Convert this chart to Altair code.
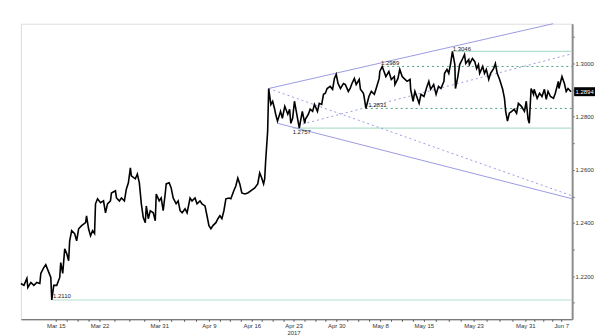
import altair as alt
import pandas as pd

# ---- price series (trading-time position, close) ----
t = [-5.10, -4.60, -4.11, -3.95, -3.45, -2.96, -2.47, -1.97, -1.81, -1.32, -0.99, -0.49, -0.16, 0.0,
     0.33, 0.82, 1.32, 1.48, 1.81, 2.14, 2.47, 2.79, 2.96, 3.29, 3.78, 4.11, 4.44, 4.93, 5.59, 5.75,
     6.08, 6.41, 6.74, 7.07, 7.23, 7.56, 8.06, 8.55, 8.88, 9.21, 9.70, 9.86, 10.52, 10.69, 11.18,
     11.51, 12.00, 12.33, 12.66, 12.99, 13.15, 13.81, 14.14, 14.47, 14.80, 15.12, 15.45, 15.62,
     15.95, 16.28, 16.77, 17.10, 17.26, 17.75, 18.08, 18.41, 18.74, 18.91, 19.40, 19.73, 20.06,
     20.55, 20.88, 21.21, 21.54, 22.03, 22.36, 22.85, 23.18, 23.67, 24.00, 24.49, 24.82, 25.32,
     25.65, 25.97, 26.30, 26.63, 27.12, 27.45, 27.78, 28.11, 28.44, 28.77, 29.26, 29.59, 30.08,
     30.41, 30.74, 31.07, 31.40, 31.89, 32.39, 32.88, 33.54, 34.03, 34.36, 34.69, 35.00, 35.18,
     35.34, 35.67, 35.84,
     36.2, 36.5, 36.8, 37.0, 37.3, 37.8, 38.1, 38.5, 39.0, 39.3, 39.5, 39.8, 40.1, 40.4, 40.9,
     41.1, 41.4, 41.8, 41.9, 42.4, 42.7, 43.1, 43.4, 43.9, 44.2, 44.6, 44.9, 45.2, 45.5, 46.0,
     46.4, 46.7, 47.0, 47.3, 47.7, 48.2, 48.5, 49.0, 49.3, 49.6, 50.0, 50.3, 50.8, 51.0, 51.5,
     51.6, 51.9, 52.4, 52.8, 53.3, 53.6, 54.1, 54.2, 54.6, 54.9, 55.2, 55.7, 56.1, 56.6, 56.7,
     57.2, 57.5, 57.9, 58.2, 58.7, 59.2, 59.3, 59.7,
     60.0, 60.7, 61.0, 61.5, 62.0, 62.3, 62.6, 63.1, 63.5, 63.9, 64.3, 64.8, 64.9, 65.3, 65.6,
     65.9, 66.2, 66.6, 66.7, 67.1, 67.4, 67.9, 68.2, 68.4, 68.9, 69.0, 69.5, 69.9, 70.2, 70.5,
     70.7, 71.2, 71.5, 71.8, 72.2, 72.5, 73.0, 73.3, 73.6, 74.0, 74.5, 74.8, 75.0, 75.3, 75.6,
     76.0, 76.4, 76.8, 77.1, 77.6, 78.1, 78.4, 78.7, 78.9, 79.2, 79.6, 79.7, 80.2, 80.6, 81.0,
     81.4, 81.7, 82.0, 82.4, 82.9, 83.2, 83.7, 83.8, 84.3, 84.7, 85.0, 85.3, 85.8]

price = [1.2172, 1.2165, 1.2191, 1.2157, 1.2176, 1.2165, 1.2176, 1.2172, 1.2210, 1.2232, 1.2243,
         1.2214, 1.2195, 1.2110, 1.2165, 1.2165, 1.2195, 1.2251, 1.2210, 1.2303, 1.2285, 1.2258,
         1.2333, 1.2371, 1.2360, 1.2333, 1.2378, 1.2390, 1.2401, 1.2427, 1.2378, 1.2352, 1.2371,
         1.2360, 1.2472, 1.2491, 1.2476, 1.2483, 1.2438, 1.2472, 1.2483, 1.2513, 1.2521, 1.2494,
         1.2483, 1.2494, 1.2483, 1.2528, 1.2551, 1.2607, 1.2577, 1.2566, 1.2584, 1.2551, 1.2472,
         1.2420, 1.2401, 1.2464, 1.2416, 1.2446, 1.2438, 1.2408, 1.2509, 1.2483, 1.2494, 1.2446,
         1.2509, 1.2547, 1.2551, 1.2532, 1.2494, 1.2472, 1.2483, 1.2446, 1.2438, 1.2453, 1.2438,
         1.2494, 1.2483, 1.2494, 1.2472, 1.2483, 1.2472, 1.2464, 1.2427, 1.2390, 1.2378, 1.2390,
         1.2401, 1.2416, 1.2427, 1.2416, 1.2446, 1.2491, 1.2494, 1.2491, 1.2521, 1.2539, 1.2569,
         1.2547, 1.2513, 1.2509, 1.2513, 1.2521, 1.2532, 1.2547, 1.2588, 1.2569, 1.2547, 1.2566,
         1.2633, 1.2745, 1.2906,
         1.2846, 1.2858, 1.2831, 1.2809, 1.2783, 1.2820, 1.2794, 1.2839, 1.2809, 1.2828, 1.2775,
         1.2794, 1.2858, 1.2820, 1.2757, 1.2783, 1.2820, 1.2775, 1.2790, 1.2809, 1.2828, 1.2820,
         1.2846, 1.2820, 1.2850, 1.2846, 1.2884, 1.2888, 1.2906, 1.2914, 1.2903, 1.2944, 1.2959,
         1.2925, 1.2906, 1.2925, 1.2921, 1.2895, 1.2906, 1.2925, 1.2944, 1.2921, 1.2940, 1.2903,
         1.2888, 1.2876, 1.2831, 1.2876, 1.2895, 1.2884, 1.2906, 1.2944, 1.2970, 1.2989, 1.2970,
         1.2951, 1.2970, 1.2940, 1.2951, 1.2921, 1.2944, 1.2978, 1.2951, 1.2944, 1.2933, 1.2940,
         1.2903, 1.2858,
         1.2895, 1.2850, 1.2884, 1.2876, 1.2914, 1.2933, 1.2903, 1.2921, 1.2884, 1.2914, 1.2906,
         1.2933, 1.2963, 1.2978, 1.2963, 1.3000, 1.3046, 1.2996, 1.2906, 1.2951, 1.2996, 1.3019,
         1.3034, 1.3000, 1.3015, 1.2996, 1.3019, 1.3007, 1.2981, 1.2996, 1.2963, 1.2989, 1.2963,
         1.2978, 1.2940, 1.2963, 1.2981, 1.3000, 1.2963, 1.2940, 1.2903, 1.2869, 1.2820, 1.2783,
         1.2813, 1.2820, 1.2828, 1.2813, 1.2850, 1.2839, 1.2820, 1.2858, 1.2790, 1.2775, 1.2906,
         1.2884, 1.2903, 1.2869, 1.2888, 1.2876, 1.2903, 1.2865, 1.2895, 1.2876, 1.2869, 1.2888,
         1.2933, 1.2906, 1.2951, 1.2925, 1.2895, 1.2906, 1.2894]

# ---- axis ticks ----
tick_pos = [0.66, 7.89, 17.75, 25.97, 33.04, 39.95, 47.02, 54.25, 61.48, 69.70, 78.25, 84.17]
tick_labels = ["Mar 15", "Mar 22", "Mar 31", "Apr 9", "Apr 16", "Apr 23", "Apr 30",
               "May 8", "May 15", "May 23", "May 31", "Jun 7"]
year_under = {"Apr 23": "2017"}
y_ticks = [1.21, 1.22, 1.23, 1.24, 1.25, 1.26, 1.27, 1.28, 1.29, 1.30, 1.31]
y_labelled = ["1.2200", "1.2400", "1.2600", "1.2800", "1.3000"]
x_domain = [-5.10, 85.98]
y_domain = [1.20375, 1.31498]

# ---- horizontal levels ----
lvl_value = [1.2110, 1.2757, 1.3046, 1.2989, 1.2831]
lvl_start = [0.0, 39.8, 66.4, 54.6, 51.9]
lvl_dashed = [False, False, False, True, True]

# ---- trend channel lines ----
tr_t1 = [35.84, 35.84, 37.32, 41.43]
tr_v1 = [1.2906, 1.2906, 1.2775, 1.2772]
tr_t2 = [82.85, 85.98, 85.98, 85.98]
tr_v2 = [1.3150, 1.2502, 1.2491, 1.3037]
tr_dashed = [False, True, False, True]

# ---- annotations ----
ann_text = ["1.2110", "1.2757", "1.2831", "1.2989", "1.3046"]
ann_t = [0.2, 39.8, 52.3, 54.4, 66.25]
ann_v = [1.2126, 1.2742, 1.2845, 1.3001, 1.3054]
last_price = 1.2894

FONT = "Liberation Sans"

# minor ticks between labelled ones
minor = []
for a, b in zip(tick_pos[:-1], tick_pos[1:]):
    for k in range(1, 4):
        minor.append(round(a + (b - a) * k / 4, 3))
x_values = sorted(tick_pos + minor)

expr = "''"
for pos, lab in reversed(list(zip(tick_pos, tick_labels))):
    if lab in year_under:
        txt = f"['{lab}', '{year_under[lab]}']"
    else:
        txt = f"'{lab}'"
    expr = f"abs(datum.value - {pos}) < 0.0001 ? {txt} : {expr}"

yexpr = "''"
for lab in reversed(y_labelled):
    yexpr = f"abs(datum.value - {float(lab)}) < 0.00001 ? '{lab}' : {yexpr}"

xscale = alt.Scale(domain=x_domain, nice=False, zero=False)
yscale = alt.Scale(domain=y_domain, nice=False, zero=False)

df = pd.DataFrame({"t": t, "price": price})
lv = pd.DataFrame({"v": lvl_value, "start": lvl_start, "end": x_domain[1], "dashed": lvl_dashed})
tr = pd.DataFrame({"t1": tr_t1, "v1": tr_v1, "t2": tr_t2, "v2": tr_v2, "dashed": tr_dashed})
an = pd.DataFrame({"label": ann_text, "t": ann_t, "v": ann_v})
lp = pd.DataFrame({"v": [last_price], "label": [f"{last_price:.4f}"]})

xaxis = alt.Axis(values=x_values, labelExpr=expr, title=None, grid=False,
                 labelFontSize=6, labelFont=FONT, labelColor="#333", labelPadding=1,
                 labelOverlap=False, labelFlush=False, labelLineHeight=7,
                 tickSize=2, tickColor="#555", domainColor="#555", domainWidth=1)
yaxis = alt.Axis(orient="right", values=y_ticks, labelExpr=yexpr,
                 title=None, grid=False, labelFontSize=6, labelFont=FONT, labelColor="#333",
                 labelPadding=1, tickSize=2, tickColor="#555",
                 domainColor="#8c8c8c", domainWidth=2, labelOverlap=False)


def X(field):
    return alt.X(field, scale=xscale, axis=xaxis)


def Y(field):
    return alt.Y(field, scale=yscale, axis=yaxis)


base_line = alt.Chart(df).mark_line(color="black", strokeWidth=1.6).encode(
    x=X("t:Q"), y=Y("price:Q"))

lv_solid = alt.Chart(lv[~lv.dashed]).mark_rule(color="#b3e0cc", strokeWidth=1.2).encode(
    x=X("start:Q"), x2="end:Q", y=Y("v:Q"))
lv_dash = alt.Chart(lv[lv.dashed]).mark_rule(color="#4aa37a", strokeWidth=1, strokeDash=[2, 3]).encode(
    x=X("start:Q"), x2="end:Q", y=Y("v:Q"))

tr_solid = alt.Chart(tr[~tr.dashed]).mark_rule(color="#9a9ae2", strokeWidth=1).encode(
    x=X("t1:Q"), x2="t2:Q", y=Y("v1:Q"), y2="v2:Q")
tr_dash = alt.Chart(tr[tr.dashed]).mark_rule(color="#9a9ae2", strokeWidth=1, strokeDash=[2, 3]).encode(
    x=X("t1:Q"), x2="t2:Q", y=Y("v1:Q"), y2="v2:Q")

ann = alt.Chart(an).mark_text(align="left", baseline="middle", fontSize=6, font=FONT,
                              color="#222").encode(
    x=X("t:Q"), y=Y("v:Q"), text="label:N")

box = alt.Chart(lp).mark_tick(color="black", thickness=9, size=21, opacity=1).encode(
    x=alt.value(566.5), y=Y("v:Q"))
box_txt = alt.Chart(lp).mark_text(color="white", fontSize=6, font=FONT, align="center",
                                  baseline="middle").encode(
    x=alt.value(566.5), y=Y("v:Q"), text="label:N")

chart = alt.layer(lv_solid, lv_dash, tr_solid, tr_dash, base_line, ann, box, box_txt).properties(
    width=554, height=297,
    padding={"left": 17, "top": 22, "right": 5, "bottom": 5},
).configure_view(stroke=None).configure(background="white")

chart.save("out.html", embed_options={"renderer": "svg", "actions": False})
